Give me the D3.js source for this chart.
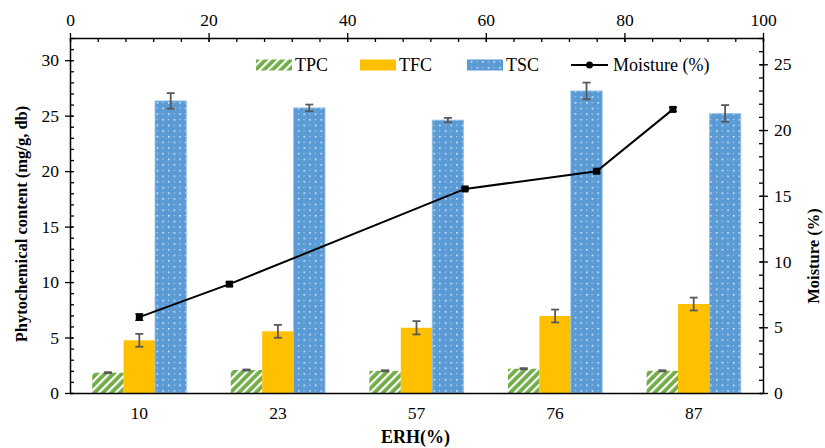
<!DOCTYPE html>
<html>
<head>
<meta charset="utf-8">
<script src="https://cdn.jsdelivr.net/npm/d3@7"></script>
<style>
  body { margin: 0; background: #fff; }
  svg, svg text { font-family: "Times New Roman", "Liberation Serif", "DejaVu Serif", serif; }
</style>
</head>
<body>
<svg id="chart" width="825" height="448"></svg>
<script>
const categories = ["10", "23", "57", "76", "87"];
const erh = [10, 23, 57, 76, 87];
const tpc = [1.83, 2.07, 2.0, 2.19, 2.0];
const tpcErr = [0.05, 0.05, 0.05, 0.05, 0.05];
const tfc = [4.75, 5.56, 5.88, 6.94, 8.02];
const tfcErr = [0.58, 0.58, 0.6, 0.58, 0.58];
const tsc = [26.33, 25.7, 24.6, 27.23, 25.2];
const tscErr = [0.7, 0.3, 0.2, 0.75, 0.75];
const moisture = [5.77, 8.28, 15.52, 16.87, 21.57];
const moistureErr = [0.25, 0.15, 0.1, 0.12, 0.15];
const leftTicks = [0, 5, 10, 15, 20, 25, 30];
const rightTicks = [0, 5, 10, 15, 20, 25];
const topTicks = [0, 20, 40, 60, 80, 100];

const FONT = "'Times New Roman', 'Liberation Serif', 'DejaVu Serif', serif";
const margin = { top: 38, right: 62, bottom: 55, left: 70 };
const width = 825 - margin.left - margin.right;
const height = 448 - margin.top - margin.bottom;

const svg = d3.select("#chart");
const defs = svg.append("defs");

// hatch for TPC
const hatch = defs.append("pattern")
    .attr("id", "hatch")
    .attr("patternUnits", "userSpaceOnUse")
    .attr("width", 6).attr("height", 6)
    .attr("patternTransform", "rotate(45)");
hatch.append("rect").attr("width", 6).attr("height", 6).attr("fill", "#70AD47");
hatch.append("rect").attr("x", 0).attr("width", 2.2).attr("height", 6).attr("fill", "#fff");

// dots for TSC
const dots = defs.append("pattern")
    .attr("id", "dots")
    .attr("patternUnits", "userSpaceOnUse")
    .attr("width", 11.3).attr("height", 11.3);
dots.append("rect").attr("width", 11.3).attr("height", 11.3).attr("fill", "#5B9BD5");
dots.append("rect").attr("x", 2).attr("y", 2).attr("width", 1.4).attr("height", 1.4).attr("fill", "#fff");
dots.append("rect").attr("x", 7.6).attr("y", 7.6).attr("width", 1.4).attr("height", 1.4).attr("fill", "#fff");
dots.append("rect").attr("x", 7.6).attr("y", 2).attr("width", 1).attr("height", 1).attr("fill", "#d8e6f5");
dots.append("rect").attr("x", 2).attr("y", 7.6).attr("width", 1).attr("height", 1).attr("fill", "#d8e6f5");

const g = svg.append("g").attr("transform", `translate(${margin.left},${margin.top})`);

const x0 = d3.scaleBand().domain(categories).range([0, width]).paddingInner(0.32).paddingOuter(0.16);
const series = [
    { key: "TPC", values: tpc, err: tpcErr, fill: "url(#hatch)" },
    { key: "TFC", values: tfc, err: tfcErr, fill: "#FFC000" },
    { key: "TSC", values: tsc, err: tscErr, fill: "url(#dots)" }
];
const x1 = d3.scaleBand().domain(series.map(s => s.key)).range([0, x0.bandwidth()]);
const yL = d3.scaleLinear().domain([0, 32]).range([height, 0]);
const yR = d3.scaleLinear().domain([0, 27]).range([height, 0]);
const xTop = d3.scaleLinear().domain([0, 100]).range([0, width]);

// bars
series.forEach(s => {
    const sg = g.append("g");
    sg.selectAll("rect")
        .data(categories)
        .enter().append("rect")
        .attr("x", (d, i) => x0(d) + x1(s.key))
        .attr("y", (d, i) => yL(s.values[i]))
        .attr("width", x1.bandwidth())
        .attr("height", (d, i) => height - yL(s.values[i]))
        .attr("fill", s.fill);
    if (s.key === "TSC") {
        sg.selectAll("rect").attr("stroke", "#9DC3E6").attr("stroke-width", 0.8);
    }
    const cx = d => x0(d) + x1(s.key) + x1.bandwidth() / 2;
    const eb = sg.selectAll(".eb").data(categories).enter().append("g")
        .attr("stroke", "#595959").attr("stroke-width", 1.8);
    eb.append("line")
        .attr("x1", cx).attr("x2", cx)
        .attr("y1", (d, i) => yL(s.values[i] + s.err[i]))
        .attr("y2", (d, i) => yL(s.values[i] - s.err[i]));
    [1, -1].forEach(sign => {
        eb.append("line")
            .attr("x1", d => cx(d) - 4).attr("x2", d => cx(d) + 4)
            .attr("y1", (d, i) => yL(s.values[i] + sign * s.err[i]))
            .attr("y2", (d, i) => yL(s.values[i] + sign * s.err[i]));
    });
});

// moisture line
g.append("path")
    .datum(erh)
    .attr("fill", "none")
    .attr("stroke", "#000")
    .attr("stroke-width", 2)
    .attr("d", d3.line().x(d => xTop(d)).y((d, i) => yR(moisture[i])));

const mg = g.append("g");
mg.selectAll(".me").data(erh).enter().append("g")
    .attr("stroke", "#000").attr("stroke-width", 1.2)
    .each(function (d, i) {
        const s = d3.select(this);
        s.append("line").attr("x1", xTop(d)).attr("x2", xTop(d))
            .attr("y1", yR(moisture[i] + moistureErr[i])).attr("y2", yR(moisture[i] - moistureErr[i]));
        [1, -1].forEach(sign => {
            s.append("line").attr("x1", xTop(d) - 4).attr("x2", xTop(d) + 4)
                .attr("y1", yR(moisture[i] + sign * moistureErr[i]))
                .attr("y2", yR(moisture[i] + sign * moistureErr[i]));
        });
    });
mg.selectAll("rect").data(erh).enter().append("rect")
    .attr("x", d => xTop(d) - 3.5)
    .attr("y", (d, i) => yR(moisture[i]) - 3.5)
    .attr("width", 7).attr("height", 7)
    .attr("fill", "#000");

// axes
function styleAxis(sel) {
    sel.attr("font-family", FONT);
    sel.selectAll("path").attr("stroke", "#000").attr("stroke-width", 1.5);
    sel.selectAll("line").attr("stroke", "#000").attr("stroke-width", 1.3);
    sel.selectAll("text").attr("font-size", 17.5).attr("fill", "#000")
        .attr("font-family", FONT);
}

// left minor + major
g.append("g").call(d3.axisRight(yL).tickValues(d3.range(0, 33, 1)).tickSize(4).tickFormat(""))
    .call(styleAxis).select("path").remove();
g.append("g").call(d3.axisLeft(yL).tickValues(leftTicks).tickSize(5).tickSizeOuter(0).tickPadding(6))
    .call(styleAxis);
g.append("g").call(d3.axisRight(yL).tickValues(leftTicks).tickSize(3).tickFormat(""))
    .call(styleAxis).select("path").remove();

// right
g.append("g").attr("transform", `translate(${width},0)`)
    .call(d3.axisLeft(yR).tickValues(d3.range(0, 28, 1)).tickSize(4).tickFormat(""))
    .call(styleAxis).select("path").remove();
g.append("g").attr("transform", `translate(${width},0)`)
    .call(d3.axisRight(yR).tickValues(rightTicks).tickSize(5).tickSizeOuter(0).tickPadding(6))
    .call(styleAxis);
g.append("g").attr("transform", `translate(${width},0)`)
    .call(d3.axisLeft(yR).tickValues(rightTicks).tickSize(3).tickFormat(""))
    .call(styleAxis).select("path").remove();

// top
g.append("g")
    .call(d3.axisBottom(xTop).tickValues(d3.range(0, 101, 4)).tickSize(4).tickFormat(""))
    .call(styleAxis).select("path").remove();
g.append("g")
    .call(d3.axisTop(xTop).tickValues(topTicks).tickSize(5).tickSizeOuter(0).tickPadding(7))
    .call(styleAxis);
g.append("g")
    .call(d3.axisBottom(xTop).tickValues(topTicks).tickSize(4).tickFormat(""))
    .call(styleAxis).select("path").remove();

// bottom
g.append("g").attr("transform", `translate(0,${height})`)
    .call(d3.axisBottom(x0).tickSize(0).tickSizeOuter(0).tickPadding(14))
    .call(styleAxis);

// titles
svg.append("text")
    .attr("transform", `translate(27,${margin.top + 186}) rotate(-90)`)
    .attr("text-anchor", "middle")
    .attr("font-family", FONT)
    .attr("font-size", 16.5).attr("font-weight", "bold")
    .text("Phytochemical content (mg/g, db)");
svg.append("text")
    .attr("transform", `translate(819,${margin.top + 218}) rotate(-90)`)
    .attr("text-anchor", "middle")
    .attr("font-family", FONT)
    .attr("font-size", 16.5).attr("font-weight", "bold")
    .text("Moisture (%)");
svg.append("text")
    .attr("x", margin.left + x0("57") + x0.bandwidth() / 2 - 1)
    .attr("y", 443)
    .attr("text-anchor", "middle")
    .attr("font-family", FONT)
    .attr("font-size", 18).attr("font-weight", "bold")
    .text("ERH(%)");

// legend
const legend = svg.append("g").attr("transform", "translate(0,65)").attr("font-family", FONT);
const legItems = [
    { label: "TPC", fill: "url(#hatch)", x: 256 },
    { label: "TFC", fill: "#FFC000", x: 360 },
    { label: "TSC", fill: "url(#dots)", x: 467 }
];
legItems.forEach(it => {
    legend.append("rect").attr("x", it.x).attr("y", -5.5).attr("width", 36).attr("height", 11).attr("fill", it.fill);
    legend.append("text").attr("x", it.x + 39).attr("y", 6).attr("font-size", 18).text(it.label);
});
legend.append("line").attr("x1", 571).attr("x2", 608).attr("y1", 0).attr("y2", 0)
    .attr("stroke", "#000").attr("stroke-width", 2);
legend.append("circle").attr("cx", 589.5).attr("cy", 0).attr("r", 3.5).attr("fill", "#000");
legend.append("text").attr("x", 613).attr("y", 6).attr("font-size", 18).text("Moisture (%)");
</script>
</body>
</html>
